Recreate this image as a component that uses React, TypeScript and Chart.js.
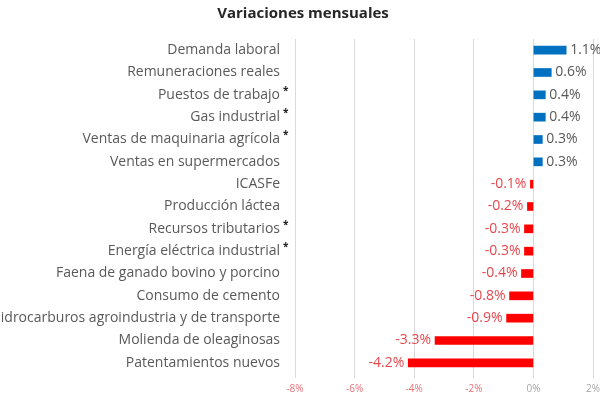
import React, { useEffect, useRef } from "react";
import { Chart, registerables } from "chart.js";

Chart.register(...registerables);

const TITLE = "Variaciones mensuales";
const categories = [
  "Demanda laboral",
  "Remuneraciones reales",
  "Puestos de trabajo",
  "Gas industrial",
  "Ventas de maquinaria agrícola",
  "Ventas en supermercados",
  "ICASFe",
  "Producción láctea",
  "Recursos tributarios",
  "Energía eléctrica industrial",
  "Faena de ganado bovino y porcino",
  "Consumo de cemento",
  "Hidrocarburos agroindustria y de transporte",
  "Molienda de oleaginosas",
  "Patentamientos nuevos",
];
const values = [1.1, 0.6, 0.4, 0.4, 0.3, 0.3, -0.1, -0.2, -0.3, -0.3, -0.4, -0.8, -0.9, -3.3, -4.2];
const asterisk = [false, false, true, true, true, false, false, false, true, true, false, false, false, false, false];
const xTicks = [-8, -6, -4, -2, 0, 2];

const FONT = "'Open Sans', 'DejaVu Sans', sans-serif";
const BLUE = "#0070c0";
const RED = "#ff0000";
const RED_TEXT = "#e8474c";
const GREY_TEXT = "#595959";

const labelPlugin = {
  id: "valueLabels",
  afterDatasetsDraw(chart: any) {
    const ctx = chart.ctx;
    const meta = chart.getDatasetMeta(0);
    ctx.save();
    ctx.font = `14px ${FONT}`;
    ctx.textBaseline = "middle";
    meta.data.forEach((bar: any, i: number) => {
      const v = values[i];
      const txt = v.toFixed(1) + "%";
      if (v >= 0) {
        ctx.fillStyle = GREY_TEXT;
        ctx.textAlign = "left";
        ctx.fillText(txt, bar.x + 4, bar.y);
      } else {
        ctx.fillStyle = RED_TEXT;
        ctx.textAlign = "right";
        ctx.fillText(txt, bar.x - 4, bar.y);
      }
    });
    // asterisks after category labels
    const y = chart.scales.y;
    ctx.fillStyle = "#222";
    ctx.font = `bold 10px ${FONT}`;
    ctx.textAlign = "left";
    categories.forEach((c, i) => {
      if (!asterisk[i]) return;
      const py = y.getPixelForValue(i);
      ctx.fillText("*", 283, py - 4);
    });
    // title
    ctx.fillStyle = "#262626";
    ctx.font = `bold 15px ${FONT}`;
    ctx.textAlign = "center";
    ctx.fillText(TITLE, 303, 14);
    ctx.restore();
  },
};

export default function App() {
  const ref = useRef<HTMLCanvasElement>(null);
  useEffect(() => {
    if (!ref.current) return;
    const chart = new Chart(ref.current, {
      type: "bar",
      data: {
        labels: categories,
        datasets: [
          {
            data: values,
            backgroundColor: values.map((v) => (v >= 0 ? BLUE : RED)),
            barThickness: 8,
          },
        ],
      },
      options: {
        indexAxis: "y",
        animation: false,
        responsive: false,
        layout: { padding: { left: 0, right: 7, top: 39, bottom: 0 } },
        plugins: {
          legend: { display: false },
          tooltip: { enabled: false },
          title: { display: false },
        },
        scales: {
          x: {
            min: -8,
            max: 2,
            afterBuildTicks: (scale: any) => {
              scale.ticks = xTicks.map((v) => ({ value: v }));
            },
            afterFit: (scale: any) => {
              scale.paddingLeft = 0;
              scale.paddingRight = 0;
            },
            ticks: {
              callback: (v: any) => v + "%",
              color: (c: any) => (c.tick && c.tick.value < 0 ? "#e8737a" : "#a6a6a6"),
              font: { family: FONT, size: 10 },
              padding: 5,
              maxRotation: 0,
            },
            grid: { color: "#d9d9d9", tickLength: 4, drawTicks: true },
            border: { display: false },
          },
          y: {
            afterFit: (scale: any) => {
              scale.width = 295;
            },
            ticks: {
              color: GREY_TEXT,
              font: { family: FONT, size: 14 },
              padding: 7,
              autoSkip: false,
            },
            grid: { display: false },
            border: { display: false },
          },
        },
      },
      plugins: [labelPlugin],
    });
    return () => chart.destroy();
  }, []);
  return (
    <div style={{ position: "fixed", left: 0, top: 0, width: 600, height: 400, background: "#fff" }}>
      <canvas ref={ref} width={600} height={400} style={{ display: "block" }} />
    </div>
  );
}
